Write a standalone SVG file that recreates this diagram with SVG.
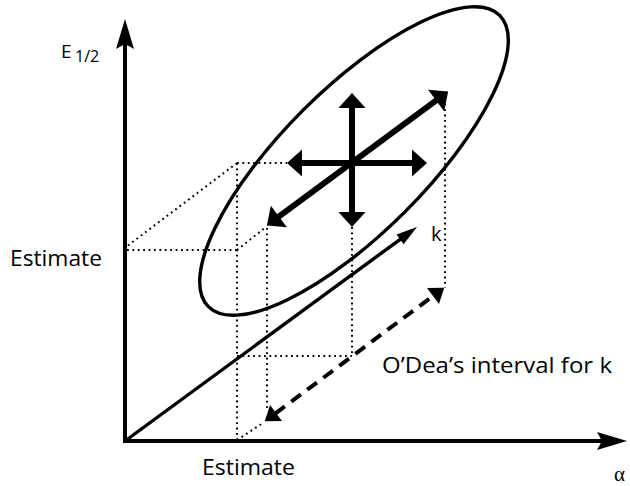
<svg xmlns="http://www.w3.org/2000/svg" width="630" height="486" viewBox="0 0 630 486">
<style>
.lbl{font-family:"Open Sans","Liberation Sans",sans-serif;fill:#000}
.ax{stroke:#000;stroke-width:4;fill:none}
.big{stroke:#000;stroke-width:6;fill:none}
.thin{stroke:#000;stroke-width:3.4;fill:none}
.dash{stroke:#000;stroke-width:4;fill:none;stroke-dasharray:12 8}
.dot{stroke:#000;stroke-width:2;fill:none;stroke-dasharray:1.8 3.6}
</style>
<defs>
<marker id="axh" markerUnits="userSpaceOnUse" markerWidth="40" markerHeight="30" viewBox="0 -15 40 30" refX="5" refY="0" orient="auto" overflow="visible">
<path d="M0,-9 L30,0 L0,9 L5,0 Z" fill="#000"/>
</marker>
<marker id="bh" markerUnits="userSpaceOnUse" markerWidth="20" markerHeight="30" viewBox="0 -15 20 30" refX="1" refY="0" orient="auto-start-reverse" overflow="visible">
<path d="M0,-13.5 L15,0 L0,13.5 Z" fill="#000"/>
</marker>
<marker id="kh" markerUnits="userSpaceOnUse" markerWidth="24" markerHeight="14" viewBox="0 -7 24 14" refX="1" refY="0" orient="auto" overflow="visible">
<path d="M0,-6 L21,0 L0,6 Z" fill="#000"/>
</marker>
<marker id="dh" markerUnits="userSpaceOnUse" markerWidth="16" markerHeight="22" viewBox="0 -11 16 22" refX="1" refY="0" orient="auto-start-reverse" overflow="visible">
<path d="M0,-10 L14,0 L0,10 Z" fill="#000"/>
</marker>
</defs>

<g id="axes">
<line class="ax" x1="125" y1="443" x2="125" y2="44" marker-end="url(#axh)"/>
<line class="ax" x1="123" y1="441" x2="602" y2="441" marker-end="url(#axh)"/>
</g>

<g id="labels">
<text class="lbl" x="61" y="58" font-size="19">E</text>
<text class="lbl" x="75" y="62" font-size="16">1/2</text>
<text class="lbl" x="10" y="266" font-size="21" textLength="92" lengthAdjust="spacingAndGlyphs">Estimate</text>
<text class="lbl" x="202" y="475" font-size="21" textLength="93" lengthAdjust="spacingAndGlyphs">Estimate</text>
<text class="lbl" x="431" y="241" font-size="20">k</text>
<text class="lbl" x="382" y="373" font-size="21" textLength="230" lengthAdjust="spacingAndGlyphs">O’Dea’s interval for k</text>
<text x="614" y="481" font-size="21" font-family="'Liberation Serif',serif" fill="#000">α</text>
</g>

<g id="ellipse">
<ellipse cx="354" cy="161" rx="206" ry="72" transform="rotate(-45 354 161)" fill="none" stroke="#000" stroke-width="3.4"/>
</g>

<g id="projection-lines">
<line class="dot" x1="237" y1="163" x2="287" y2="163"/>
<line class="dot" x1="237" y1="163" x2="126" y2="247"/>
<line class="dot" x1="127" y1="250" x2="237" y2="250"/>
<line class="dot" x1="237" y1="250" x2="266" y2="227"/>
<line class="dot" x1="237" y1="163" x2="237" y2="440"/>
<line class="dot" x1="267" y1="228" x2="267" y2="410"/>
<line class="dot" x1="237" y1="440" x2="263" y2="423"/>
<line class="dot" x1="352" y1="227" x2="352" y2="356"/>
<line class="dot" x1="237" y1="356" x2="352" y2="356"/>
<line class="dot" x1="445" y1="93" x2="445" y2="288"/>
</g>

<g id="connectors">
<line class="big" x1="352" y1="107" x2="352" y2="213" marker-start="url(#bh)" marker-end="url(#bh)"/>
<line class="big" x1="301" y1="163" x2="413" y2="163" marker-start="url(#bh)" marker-end="url(#bh)"/>
<line class="big" x1="278.1" y1="217.1" x2="436.9" y2="99.9" marker-start="url(#bh)" marker-end="url(#bh)"/>
<line class="thin" x1="125" y1="441" x2="400.9" y2="238.8" marker-end="url(#kh)"/>
<line class="dash" x1="275.2" y1="413.6" x2="433.8" y2="295.4" marker-start="url(#dh)" marker-end="url(#dh)"/>
</g>
</svg>
